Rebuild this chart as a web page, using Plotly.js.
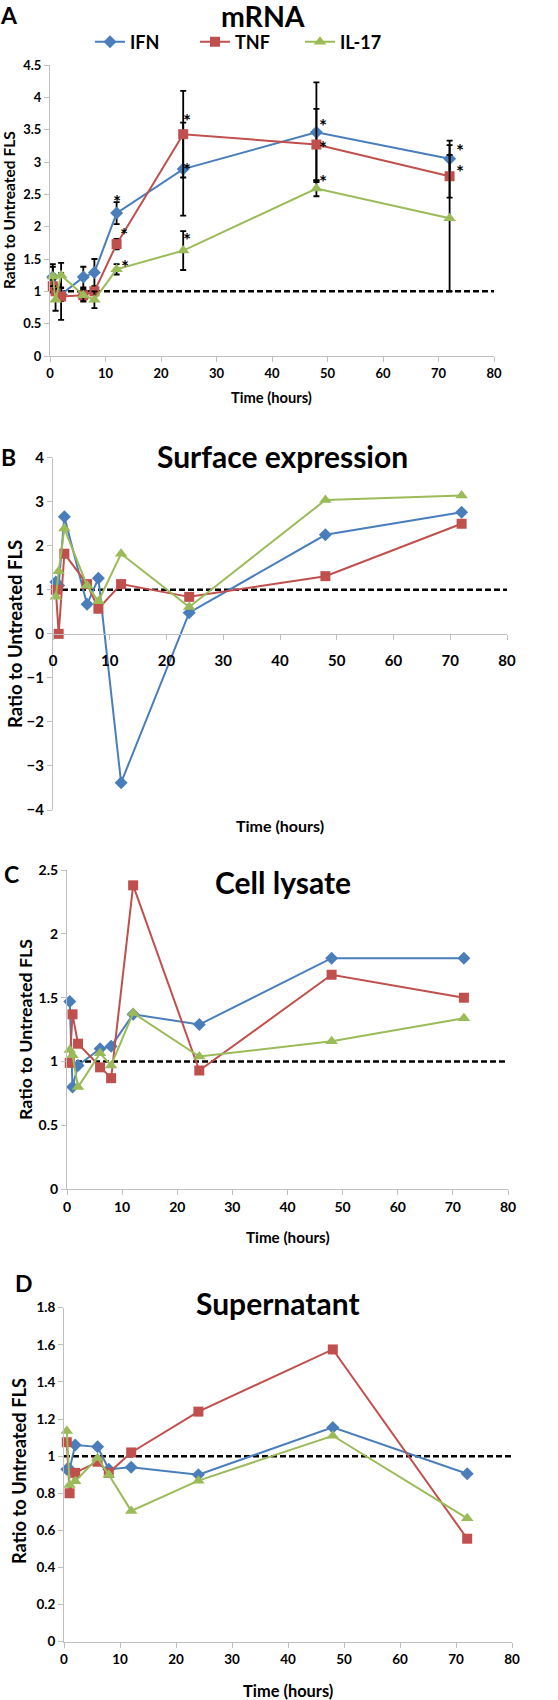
<!DOCTYPE html>
<html>
<head>
<meta charset="utf-8">
<script src="https://cdn.plot.ly/plotly-3.0.1.min.js"></script>
<style>html,body{margin:0;padding:0;background:#fff;}#chart{width:558px;height:1700px;}</style>
</head>
<body>
<div id="chart"></div>
<script>
// ---- data ----
const times = [0.5, 1, 2, 6, 8, 12, 24, 48, 72];
const seriesNames = ["IFN", "TNF", "IL-17"];

// Panel A: mRNA
const ifnA = [1.22, 1.05, 0.95, 1.22, 1.29, 2.21, 2.89, 3.46, 3.05];
const ifnAErr = [0.2, 0, 0.1, 0.16, 0.21, 0.17, 0.72, 0.77, 0.28];
const tnfA = [1.08, 1.0, 0.92, 0.94, 1.0, 1.73, 3.43, 3.27, 2.78];
const tnfAErr = [0.1, 0, 0.36, 0.08, 0.05, 0.08, 0.67, 0.55, 0.33];
const il17A = [1.23, 0.87, 1.25, 0.94, 0.87, 1.34, 1.63, 2.59, 2.13];
const il17AErr = [0.15, 0.17, 0.19, 0.1, 0.13, 0.08, 0.3, 0.12, 1.13];
const starX = [12.1, 13.3, 13.5, 24.6, 24.6, 24.6, 49.2, 49.2, 49.2, 73.8, 73.8];
const starY = [2.5, 1.98, 1.49, 3.75, 2.99, 1.91, 3.67, 3.34, 2.8, 3.29, 2.96];

// Panel B: Surface expression
const ifnB = [1.18, 1.1, 2.66, 0.67, 1.26, -3.38, 0.48, 2.25, 2.76];
const tnfB = [1.0, 0.0, 1.82, 1.13, 0.57, 1.13, 0.84, 1.31, 2.5];
const il17B = [0.84, 1.42, 2.39, 1.1, 0.74, 1.82, 0.61, 3.04, 3.14];

// Panel C: Cell lysate
const ifnC = [1.47, 0.8, 0.97, 1.1, 1.12, 1.37, 1.29, 1.81, 1.81];
const tnfC = [0.99, 1.37, 1.14, 0.955, 0.87, 2.38, 0.93, 1.68, 1.5];
const il17C = [1.09, 1.05, 0.8, 1.065, 0.97, 1.38, 1.04, 1.16, 1.34];

// Panel D: Supernatant
const ifnD = [0.93, 0.93, 1.06, 1.05, 0.93, 0.94, 0.9, 1.155, 0.905];
const tnfD = [1.075, 0.8, 0.91, 0.97, 0.91, 1.02, 1.24, 1.575, 0.555];
const il17D = [1.135, 0.845, 0.865, 0.99, 0.9, 0.705, 0.868, 1.11, 0.665];

// reference line (ratio = 1)
const refX = [0, 80];
const refY = [1, 1];

const panelTitles = ["mRNA", "Surface expression", "Cell lysate", "Supernatant"];
const panelLetters = ["A", "B", "C", "D"];
const yTitle = "Ratio to Untreated FLS";
const xTitle = "Time (hours)";

// ---- styling ----
const W = 558, H = 1700;
const FONT = "Lato, 'Open Sans', sans-serif";
const colors = ["#4A7EBB", "#C0504D", "#9BBB59"];
const symbols = ["diamond", "square", "triangle-up"];
const msize = [10, 10, 11];
const fx = px => px / W;
const fy = px => 1 - px / H;

const panels = [
  {ifn: ifnA, tnf: tnfA, il: il17A, errs: [ifnAErr, tnfAErr, il17AErr],
   x: [50, 494], y: [65, 356], range: [0, 4.5], dtick: 0.5, tick: 13},
  {ifn: ifnB, tnf: tnfB, il: il17B, errs: null,
   x: [53, 507], y: [457.7, 810], range: [-4, 4], dtick: 1, tick: 15},
  {ifn: ifnC, tnf: tnfC, il: il17C, errs: null,
   x: [67, 508], y: [870, 1189.3], range: [0, 2.5], dtick: 0.5, tick: 14},
  {ifn: ifnD, tnf: tnfD, il: il17D, errs: null,
   x: [64, 512], y: [1307.7, 1641.7], range: [0, 1.8], dtick: 0.2, tick: 13.5}
];

const traces = [];
const layout = {
  width: W, height: H,
  margin: {l: 0, r: 0, t: 0, b: 0},
  paper_bgcolor: "#fff", plot_bgcolor: "rgba(0,0,0,0)",
  font: {family: FONT, color: "#000"},
  showlegend: true,
  legend: {orientation: "h", x: fx(90), xanchor: "left", y: fy(42), yanchor: "middle",
           font: {family: FONT, size: 18, weight: 700, color: "#000"},
           entrywidth: 60, entrywidthmode: "pixels", itemwidth: 30,
           bgcolor: "rgba(0,0,0,0)"},
  annotations: []
};

panels.forEach((p, i) => {
  const xa = i === 0 ? "x" : "x" + (i + 1);
  const ya = i === 0 ? "y" : "y" + (i + 1);
  const xk = i === 0 ? "xaxis" : "xaxis" + (i + 1);
  const yk = i === 0 ? "yaxis" : "yaxis" + (i + 1);
  const yDom = [fy(p.y[1]), fy(p.y[0])];
  const crosses = p.range[0] < 0;
  const zeroPos = yDom[0] + (0 - p.range[0]) / (p.range[1] - p.range[0]) * (yDom[1] - yDom[0]);
  layout[xk] = {
    domain: [fx(p.x[0]), fx(p.x[1])], range: [0, 80], dtick: 10, tick0: 0,
    anchor: crosses ? "free" : ya,
    showline: true, linecolor: "#BFBFBF", linewidth: 1,
    ticks: "outside", ticklen: 5, tickcolor: "#BFBFBF",
    ticklabelstandoff: crosses ? 8 : 0,
    showgrid: false, zeroline: false,
    tickfont: {family: FONT, size: p.tick, weight: 700, color: "#000"}
  };
  if (crosses) layout[xk].position = zeroPos;
  layout[yk] = {
    domain: yDom, range: p.range, dtick: p.dtick, tick0: 0,
    anchor: xa,
    showline: true, linecolor: "#BFBFBF", linewidth: 1,
    ticks: "outside", ticklen: 5, tickcolor: "#BFBFBF",
    showgrid: false, zeroline: false,
    tickfont: {family: FONT, size: p.tick, weight: 700, color: "#000"}
  };
  // reference dashed line
  traces.push({x: refX, y: refY, xaxis: xa, yaxis: ya, mode: "lines", showlegend: false,
    hoverinfo: "skip", line: {color: "#000", width: 2.5, dash: "6px,3px"}});
  [p.ifn, p.tnf, p.il].forEach((vals, k) => {
    const t = {
      x: times, y: vals, xaxis: xa, yaxis: ya, name: seriesNames[k],
      mode: "lines+markers", showlegend: i === 0,
      line: {color: colors[k], width: 2},
      marker: {color: colors[k], symbol: symbols[k], size: msize[k]},
      cliponaxis: false
    };
    if (p.errs) {
      t.error_y = {type: "data", array: p.errs[k], visible: true, color: "#000", thickness: 1.8, width: 3};
    }
    traces.push(t);
  });
});

// asterisks on panel A (significance marks)
starX.forEach((sx, j) => {
  layout.annotations.push({text: "*", xref: "x", yref: "y", x: sx, y: starY[j],
    xanchor: "center", yanchor: "middle", yshift: -7, showarrow: false, borderpad: 0,
    font: {family: FONT, size: 19, weight: 700, color: "#000"}});
});

// panel titles, letters and axis titles
const titlePos = [[263, 13, 28.5], [282, 456, 30], [283, 882, 30], [278, 1303, 30]];
const letterPos = [[9, 12], [8, 457], [11, 874], [24, 1283]];
const yTitlePos = [[9, 210, 15.5], [15, 634, 18.5], [25, 1030, 17.8], [19, 1471, 18.3]];
const xTitlePos = [[271, 397, 14.7], [280, 825, 16], [288, 1237, 15.2], [288, 1690, 16.4]];
for (let i = 0; i < 4; i++) {
  const tAnn = {text: panelTitles[i], xref: "paper", yref: "paper",
    x: fx(titlePos[i][0]), y: fy(titlePos[i][1]), xanchor: "center", yanchor: "middle",
    showarrow: false, font: {family: FONT, size: titlePos[i][2], weight: 700, color: "#000"}};
  if (i === 0) { tAnn.y = 1; tAnn.yanchor = "top"; tAnn.yshift = 3; }
  layout.annotations.push(tAnn);
  const lAnn = {text: panelLetters[i], xref: "paper", yref: "paper",
    x: fx(letterPos[i][0]), y: fy(letterPos[i][1]), xanchor: "center", yanchor: "middle",
    showarrow: false, font: {family: FONT, size: 23, weight: 700, color: "#000"}};
  if (i === 0) { lAnn.y = 1; lAnn.yanchor = "top"; lAnn.borderpad = 0; }
  layout.annotations.push(lAnn);
  layout.annotations.push({text: yTitle, xref: "paper", yref: "paper", textangle: -90,
    x: fx(yTitlePos[i][0]), y: fy(yTitlePos[i][1]), xanchor: "center", yanchor: "middle",
    showarrow: false, font: {family: FONT, size: yTitlePos[i][2], weight: 700, color: "#000"}});
  layout.annotations.push({text: xTitle, xref: "paper", yref: "paper",
    x: fx(xTitlePos[i][0]), y: fy(xTitlePos[i][1]), xanchor: "center", yanchor: "middle",
    showarrow: false, font: {family: FONT, size: xTitlePos[i][2], weight: 700, color: "#000"}});
}

Plotly.newPlot("chart", traces, layout, {displayModeBar: false, staticPlot: true});
</script>
</body>
</html>
